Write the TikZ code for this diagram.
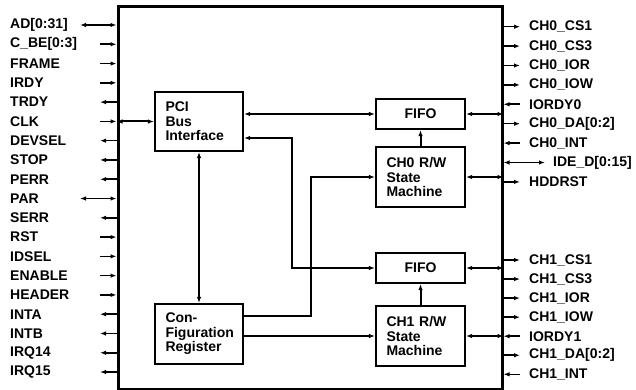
\documentclass[tikz,border=0pt]{standalone}
\usepackage{fontspec}
\setmainfont{Liberation Sans}
\usetikzlibrary{arrows.meta}
\begin{document}
\begin{tikzpicture}[x=1pt,y=-1pt,
  every node/.style={font=\fontsize{14}{14.5}\selectfont\bfseries},
  blk/.style={draw,line width=2.2pt,inner xsep=10.5pt,inner ysep=0pt,text width=67pt,align=left},
  fifo/.style={draw,line width=2.2pt,inner sep=0pt,minimum width=89pt,minimum height=30pt},
  lbl/.style={anchor=west,inner sep=0pt},
  con/.style={line width=2pt},
  sig/.style={line width=1.6pt},
  sin/.style={->},
  sout/.style={<-},
  sbi/.style={<->},
  >={Latex[length=6pt,width=4.5pt]}]
\fill[white] (0,0) rectangle (636,390);
\useasboundingbox (0,0) rectangle (636,390);

% chip outline
\node[draw,line width=3pt,inner sep=0pt,minimum width=384pt,minimum height=382pt] (chip) at (310,198) {};

% blocks
\node[blk,minimum height=59pt] (pci) at (199,121.5) {PCI\\Bus\\Interface};
\node[blk,minimum height=60pt] (cfg) at (199,334) {Con-\\Figuration\\Register};
\node[fifo] (fifo0) at (420.5,114) {FIFO};
\node[blk,minimum height=60pt,text width=68pt] (ch0) at (420.5,177) {CH0 R/W\\State\\Machine};
\node[fifo] (fifo1) at (420.5,268) {FIFO};
\node[blk,minimum height=60pt,text width=68pt] (ch1) at (420.5,336) {CH1 R/W\\State\\Machine};

% internal connectors
\draw[con,<->] (pci.west -| chip.west) -- (pci.west);
\draw[con,<->] (pci.east |- fifo0.west) -- (fifo0.west);
\coordinate (j1) at (292,138);
\draw[con,<->] (j1 -| pci.east) -- (j1) |- (fifo1.west);
\coordinate (j2) at (311,316);
\draw[con,->] (j2 -| cfg.east) -- (j2) |- (ch0.west);
\draw[con,->] (cfg.east |- ch1.west) -- (ch1.west);
\draw[con,<->] (pci.south) -- (cfg.north);
\draw[con,->] (ch0.north) -- (fifo0.south);
\draw[con,->] (ch1.north) -- (fifo1.south);
\draw[con,<->] (fifo0.east) -- (fifo0.east -| chip.east);
\draw[con,<->] (ch0.east) -- (ch0.east -| chip.east);
\draw[con,<->] (fifo1.east) -- (fifo1.east -| chip.east);
\draw[con,<->] (ch1.east) -- (ch1.east -| chip.east);

% left signals
\foreach \t/\a/\d [count=\i from 0] in {
  AD[0:31]/sbi/80, C\_BE[0:3]/sin/100, FRAME/sin/100, IRDY/sin/100,
  TRDY/sout/100, CLK/sin/100, DEVSEL/sout/100, STOP/sout/100,
  PERR/sout/100, PAR/sbi/80, SERR/sout/100, RST/sin/100,
  IDSEL/sin/100, ENABLE/sin/100, HEADER/sin/100, INTA/sout/100,
  INTB/sout/100, IRQ14/sout/100, IRQ15/sout/100}
{
  \node[lbl] (L\i) at (10,{25+\i*19.28}) {\t};
  \coordinate (LA\i) at (\d,{25+\i*19.28});
  \draw[sig,\a] (LA\i) -- (LA\i -| chip.west);
}

% right signals, channel 0
\foreach \t/\a/\d/\x [count=\i from 0] in {
  CH0\_CS1/sout/520/529, CH0\_CS3/sout/520/529, CH0\_IOR/sout/520/529,
  CH0\_IOW/sout/520/529, IORDY0/sin/520/529, CH0\_DA[0:2]/sout/520/529,
  CH0\_INT/sin/520/529, IDE\_D[0:15]/sbi/545/553, HDDRST/sout/520/529}
{
  \node[lbl] (R\i) at (\x,{26.7+\i*19.4}) {\t};
  \coordinate (RA\i) at (\d,{26.7+\i*19.4});
  \draw[sig,\a] (RA\i) -- (RA\i -| chip.east);
}

% right signals, channel 1
\foreach \t/\a [count=\i from 0] in {
  CH1\_CS1/sout, CH1\_CS3/sout, CH1\_IOR/sout, CH1\_IOW/sout,
  IORDY1/sin, CH1\_DA[0:2]/sout, CH1\_INT/sin}
{
  \node[lbl] (S\i) at (529,{260+\i*19.05}) {\t};
  \coordinate (SA\i) at (520,{260+\i*19.05});
  \draw[sig,\a] (SA\i) -- (SA\i -| chip.east);
}
\end{tikzpicture}
\end{document}
